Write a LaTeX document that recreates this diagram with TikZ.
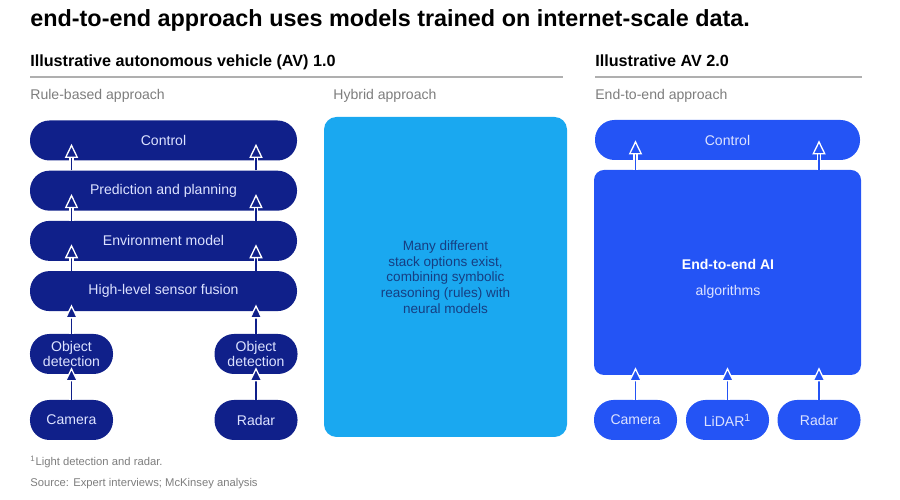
\documentclass[tikz,border=0pt]{standalone}
\usepackage{fontspec}
\setmainfont{Liberation Sans}
\usetikzlibrary{positioning,arrows.meta,calc}

\definecolor{avnavy}{RGB}{16,32,138}
\definecolor{avblue}{RGB}{36,84,245}
\definecolor{hybridcyan}{RGB}{26,168,240}
\definecolor{hybridtext}{RGB}{22,62,130}
\definecolor{boxtext}{RGB}{220,226,255}
\definecolor{subgray}{RGB}{125,125,125}
\definecolor{rulegray}{RGB}{175,175,175}

\begin{document}
\begin{tikzpicture}[
    pill/.style={rectangle, rounded corners=0.39cm, minimum height=0.8cm, inner sep=0pt, font=\fontsize{8}{8.5}\selectfont, text=boxtext, align=center},
    layer/.style={pill, fill=avnavy, minimum width=5.34cm},
    sensorbox/.style={pill, fill=#1, minimum width=1.66cm},
    heading/.style={anchor=base west, inner sep=0pt, font=\fontsize{9.2}{11}\selectfont\bfseries},
    approach/.style={anchor=base west, inner sep=0pt, font=\fontsize{8}{10}\selectfont, text=subgray},
    note/.style={anchor=base west, inner sep=0pt, font=\fontsize{6.4}{8}\selectfont, text=subgray},
    rule/.style={draw=rulegray, line width=1.1pt},
    flow/.style={draw=#1, line width=1pt, -{Triangle[width=7.5pt, length=8pt, line width=0.75pt, color=white, fill=#1]},
        preaction={draw=white, line width=2.7pt, arrows=-, shorten >=5pt}}
]
\useasboundingbox (0,0) rectangle (18,10);

% Title
\node[anchor=base west, inner sep=0pt, font=\fontsize{13.3}{16}\selectfont\bfseries] (title) at (0.6, 9.47) {end-to-end approach uses models trained on internet-scale data.};

% Headings
\node[heading] (av1) at (0.6, 8.66) {Illustrative autonomous vehicle (AV) 1.0};
\node[heading] (av2) at (11.9, 8.66) {Illustrative AV 2.0};
\draw[rule] (0.6, 8.46) -- (11.26, 8.46);
\draw[rule] (11.9, 8.46) -- (17.24, 8.46);

\node[approach] (rulehd) at (0.6, 8.0) {Rule-based approach};
\node[approach] (hybridhd) at (6.66, 8.0) {Hybrid approach};
\node[approach] (e2ehd) at (11.9, 8.0) {End-to-end approach};

% AV 1.0: rule-based stack
\node[layer] (control) at (3.27, 7.19) {Control};
\node[layer, below=0.19cm of control] (plan) {Prediction and planning};
\node[layer, below=0.19cm of plan] (envmodel) {Environment model};
\node[layer, below=0.19cm of envmodel] (fusion) {High-level sensor fusion};

\node[sensorbox=avnavy] (detl) at (1.43, 2.92) {Object\\detection};
\node[sensorbox=avnavy] (detr) at (5.12, 2.92) {Object\\detection};
\node[sensorbox=avnavy] (cam1) at (1.43, 1.6) {Camera};
\node[sensorbox=avnavy] (radar1) at (5.12, 1.6) {Radar};

\foreach \lo/\hi in {plan/control, envmodel/plan, fusion/envmodel} {
    \draw[flow=avnavy] (\lo.north -| detl) -- ($(\hi.south -| detl)+(0,0.34)$);
    \draw[flow=avnavy] (\lo.north -| detr) -- ($(\hi.south -| detr)+(0,0.34)$);
}
\draw[flow=avnavy] (detl.north) -- ($(fusion.south -| detl)+(0,0.14)$);
\draw[flow=avnavy] (detr.north) -- ($(fusion.south -| detr)+(0,0.14)$);
\draw[flow=avnavy] (cam1.north) -- ($(detl.south)+(0,0.14)$);
\draw[flow=avnavy] (radar1.north) -- ($(detr.south)+(0,0.14)$);

% Hybrid
\node[fill=hybridcyan, rounded corners=0.25cm, minimum width=4.86cm, minimum height=6.4cm, align=center, text=hybridtext, font=\fontsize{7.7}{9}\selectfont] (hybrid) at (8.91, 4.46) {Many different\\stack options exist,\\combining symbolic\\reasoning (rules) with\\neural models};

% AV 2.0: end-to-end
\node[pill, fill=avblue, minimum width=5.3cm] (control2) at (14.55, 7.2) {Control};
\node[fill=avblue, rounded corners=0.2cm, minimum width=5.34cm, minimum height=4.1cm] (e2e) at (14.55, 4.55) {};
\node[font=\fontsize{8}{10}\selectfont\bfseries, text=white] (e2etitle) at (14.56, 4.72) {End-to-end AI};
\node[font=\fontsize{8}{10}\selectfont, text=boxtext] (e2ealgo) at (14.56, 4.16) {algorithms};

\node[sensorbox=avblue] (cam2) at (12.71, 1.6) {Camera};
\node[sensorbox=avblue] (lidar) at (14.55, 1.6) {LiDAR\textsuperscript{1}};
\node[sensorbox=avblue] (radar2) at (16.38, 1.6) {Radar};

\draw[flow=avblue] (e2e.north -| cam2) -- ($(control2.south -| cam2)+(0,0.4)$);
\draw[flow=avblue] (e2e.north -| radar2) -- ($(control2.south -| radar2)+(0,0.4)$);
\foreach \s in {cam2, lidar, radar2}
    \draw[flow=avblue] (\s.north) -- ($(e2e.south -| \s)+(0,0.16)$);

% Notes
\node[note] (fn) at (0.6, 0.68) {\textsuperscript{1}Light detection and radar.};
\node[note] (src) at (0.6, 0.26) {Source: Expert interviews; McKinsey analysis};

\end{tikzpicture}
\end{document}
